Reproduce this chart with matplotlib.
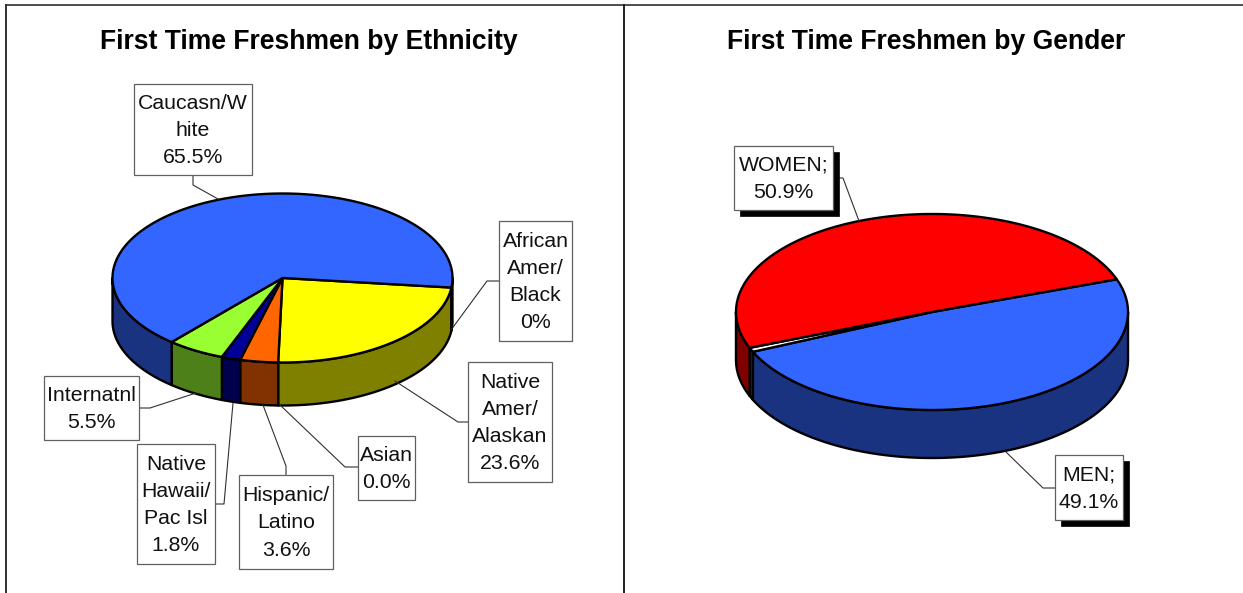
import numpy as np
import matplotlib
matplotlib.use('Agg')
import matplotlib.pyplot as plt
from matplotlib.patches import Polygon, Rectangle

plt.rcParams['font.family'] = ['Liberation Sans', 'DejaVu Sans']

eth_labels = ['African\nAmer/\nBlack\n0%', 'Native\nAmer/\nAlaskan\n23.6%', 'Asian\n0.0%',
              'Hispanic/\nLatino\n3.6%', 'Native\nHawaii/\nPac Isl\n1.8%', 'Internatnl\n5.5%',
              'Caucasn/W\nhite\n65.5%']
eth_values = [0.0, 23.6, 0.0, 3.6, 1.8, 5.5, 65.5]
eth_colors = ['#FFFF00', '#FFFF00', '#FF6600', '#FF6600', '#000099', '#99FF33', '#3366FF']
eth_sides = ['#808000', '#808000', '#803300', '#803300', '#00004D', '#4D8019', '#1A3380']

# the tiny middle entry is the white sliver between the two big slices
gen_labels = ['MEN;\n49.1%', 'WOMEN;\n50.9%']
gen_values = [49.1, 0.7, 50.9]
gen_colors = ['#3366FF', '#FFFFFF', '#FF0000']
gen_sides = ['#1A3380', '#800000', '#800000']

title_left = 'First Time Freshmen by Ethnicity'
title_right = 'First Time Freshmen by Gender'

# box (x0, y0, x1, y1) and leader line for each label, in pixels
eth_boxes = [(499, 221, 572, 341), (468, 362, 552, 482), (358, 436, 415, 500),
             (239, 475, 333, 569), (137, 444, 215, 564), (44, 376, 139, 440),
             (134, 84, 252, 175)]
eth_leaders = [[(499, 281), (487, 281), (451, 330)],
               [(468, 422), (458, 422), (395, 381)],
               [(358, 467), (345, 467), (280, 405)],
               [(286, 475), (286, 466), (263, 405)],
               [(215, 504), (224, 504), (233, 403)],
               [(139, 408), (150, 408), (196, 393)],
               [(193, 175), (193, 185), (218, 199)]]
gen_boxes = [(1055, 455, 1123, 520), (734, 146, 833, 210)]
gen_leaders = [[(1055, 488), (1043, 488), (1006, 452)],
               [(833, 178), (843, 178), (859, 221)]]

fig = plt.figure(figsize=(12.43, 5.93), dpi=100)
ax = fig.add_axes([0, 0, 1, 1])
ax.set_xlim(0, 1243)
ax.set_ylim(593, 0)
ax.axis('off')


def pie3d(ax, values, colors, sides, cx, cy, rx, ry, depth, start):
    edges = start - np.cumsum([0] + list(values)) / np.sum(values) * 360
    # sides first
    for i in range(len(values)):
        a0, a1 = edges[i], edges[i + 1]
        if a0 == a1:
            continue
        # only the front half of the rim can be seen
        lo, hi = a1, a0
        for k in [-360, 0]:
            l2, h2 = max(lo, -180 + k), min(hi, 0 + k)
            if l2 >= h2:
                continue
            t = np.radians(np.linspace(h2, l2, 100))
            xs = cx + rx * np.cos(t)
            ys = cy - ry * np.sin(t)
            top = np.column_stack([xs, ys])
            bot = np.column_stack([xs, ys + depth])[::-1]
            ax.add_patch(Polygon(np.vstack([top, bot]), closed=True, fc=sides[i], ec='black',
                                 lw=1.7, joinstyle='round', zorder=2))
    # top faces
    for i in range(len(values)):
        a0, a1 = edges[i], edges[i + 1]
        if a0 == a1:
            continue
        t = np.radians(np.linspace(a0, a1, 300))
        pts = np.column_stack([cx + rx * np.cos(t), cy - ry * np.sin(t)])
        pts = np.vstack([[cx, cy], pts])
        ax.add_patch(Polygon(pts, closed=True, fc=colors[i], ec='black', lw=1.7,
                             joinstyle='round', zorder=3))


def label(ax, text, box, leader, shadow=False):
    x0, y0, x1, y1 = box
    xs, ys = zip(*leader)
    ax.plot(xs, ys, color='#303030', lw=0.8, zorder=4)
    if shadow:
        ax.add_patch(Rectangle((x0 + 6, y0 + 6), x1 - x0, y1 - y0, fc='black', ec='black', lw=0.5, zorder=5))
    ax.add_patch(Rectangle((x0, y0), x1 - x0, y1 - y0, fc='white', ec='#606060', lw=0.9, zorder=6))
    ax.text((x0 + x1) / 2, (y0 + y1) / 2 + 1, text, ha='center', va='center', fontsize=15.3,
            color='#111111', linespacing=1.55, zorder=7)


# panel frame
ax.plot([6, 6], [593, 5], color='#303030', lw=1.4)
ax.plot([6, 1243], [5, 5], color='#303030', lw=1.2)
ax.plot([624, 624], [5, 593], color='#202020', lw=1.4)

ax.text(309, 42, title_left, ha='center', va='center', fontsize=19.1, fontweight='bold', color='black')
ax.text(926, 42, title_right, ha='center', va='center', fontsize=19.1, fontweight='bold', color='black')

pie3d(ax, eth_values, eth_colors, eth_sides, 282.5, 278, 170, 84.5, 43, -6.5)
pie3d(ax, gen_values, gen_colors, gen_sides, 932, 312, 196, 98, 48, 19.5)

for t, b, l in zip(eth_labels, eth_boxes, eth_leaders):
    label(ax, t, b, l)
for t, b, l in zip(gen_labels, gen_boxes, gen_leaders):
    label(ax, t, b, l, shadow=True)

fig.savefig('out.png', dpi=100)
